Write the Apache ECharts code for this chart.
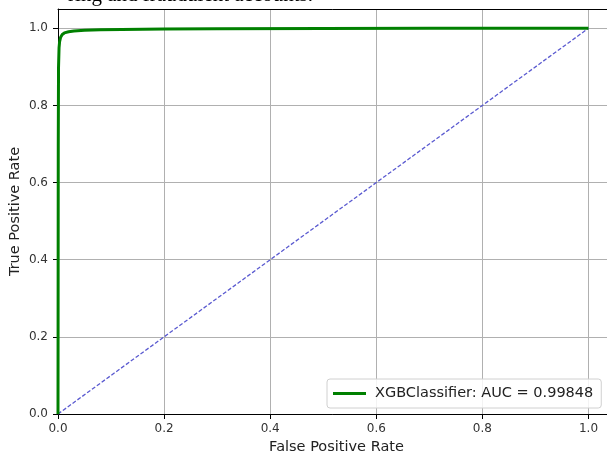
<!DOCTYPE html>
<html lang="en" style="height: 100%">
<head>
  <meta charset="utf-8">
</head>
<body style="height: 100%; margin: 0; background: #fff">
  <div id="container" style="height: 100%"></div>
  <script type="text/javascript" src="https://cdn.jsdelivr.net/npm/echarts@6/dist/echarts.min.js"></script>
  <script type="text/javascript">
    // ROC curve
    var fpr = [0, 0.0005, 0.001, 0.002, 0.003, 0.005, 0.008, 0.012, 0.02, 0.03, 0.05, 0.08, 0.12, 0.2, 0.3, 0.5, 0.7, 1.0];
    var tpr = [0, 0.70, 0.90, 0.95, 0.965, 0.977, 0.984, 0.988, 0.991, 0.993, 0.995, 0.996, 0.997, 0.998, 0.999, 0.9995, 1.0, 1.0];
    var diagX = [0, 1];
    var diagY = [0, 1];
    var aucLabel = 'XGBClassifier: AUC = 0.99848';
    var topText = 'ring and fraudulent accounts.';

    var dom = document.getElementById('container');
    var myChart = echarts.init(dom, null, { renderer: 'canvas' });

    var labelFont = 'DejaVu Sans';
    var option = {
      animation: false,
      backgroundColor: '#fff',
      graphic: [{
        type: 'text',
        right: 294,
        top: -15,
        style: {
          text: topText,
          font: '21px "Liberation Serif"',
          fill: '#000'
        }
      }],
      grid: {
        left: 58,
        top: 9,
        width: 557,
        height: 405,
        containLabel: false,
        outerBoundsMode: 'none',
        show: false
      },
      legend: {
        left: 327,
        top: 379,
        orient: 'vertical',
        backgroundColor: 'rgba(255,255,255,0.85)',
        borderColor: '#d0d0d0',
        borderWidth: 1,
        borderRadius: 3,
        padding: [7, 8, 7, 6],
        itemWidth: 33,
        itemHeight: 3,
        itemGap: 8,
        icon: 'rect',
        textStyle: { fontFamily: labelFont, fontSize: 14.5, color: '#222', padding: [0, 0, 0, 4] },
        data: [aucLabel]
      },
      xAxis: [{
        type: 'value',
        min: 0,
        max: 1.05,
        interval: 0.2,
        name: 'False Positive Rate',
        nameLocation: 'middle',
        nameGap: 26,
        nameMoveOverlap: false,
        nameTextStyle: { fontFamily: labelFont, fontSize: 14.5, color: '#222' },
        axisLine: { show: true, lineStyle: { color: '#000' } },
        axisTick: { show: true, length: 5, lineStyle: { color: '#000' } },
        axisLabel: {
          fontFamily: labelFont, fontSize: 12, color: '#333', margin: 9,
          showMaxLabel: false,
          formatter: function (v) { return v > 1.001 ? '' : v.toFixed(1); }
        },
        splitLine: { show: true, showMaxLine: false, lineStyle: { color: '#b0b0b0', width: 1 } }
      }, {
        // top frame line only
        type: 'value',
        position: 'top',
        min: 0,
        max: 1.05,
        axisLine: { show: true, onZero: false, lineStyle: { color: '#000' } },
        axisTick: { show: false },
        axisLabel: { show: false },
        splitLine: { show: false }
      }],
      yAxis: {
        type: 'value',
        min: 0,
        max: 1.05,
        interval: 0.2,
        name: 'True Positive Rate',
        nameLocation: 'middle',
        nameGap: 35,
        nameMoveOverlap: false,
        nameTextStyle: { fontFamily: labelFont, fontSize: 14.5, color: '#222' },
        axisLine: { show: true, lineStyle: { color: '#000' } },
        axisTick: { show: true, length: 5, lineStyle: { color: '#000' } },
        axisLabel: {
          fontFamily: labelFont, fontSize: 12, color: '#333', margin: 10,
          showMaxLabel: false,
          formatter: function (v) { return v > 1.001 ? '' : v.toFixed(1); }
        },
        splitLine: { show: true, showMaxLine: false, lineStyle: { color: '#b0b0b0', width: 1 } }
      },
      series: [
        {
          name: aucLabel,
          type: 'line',
          data: fpr.map(function (x, i) { return [x, tpr[i]]; }),
          showSymbol: false,
          lineStyle: { color: '#008000', width: 3 },
          itemStyle: { color: '#008000' },
          z: 3
        },
        {
          name: 'diag',
          type: 'line',
          data: diagX.map(function (x, i) { return [x, diagY[i]]; }),
          showSymbol: false,
          lineStyle: { color: '#5a5ad0', width: 1.3, type: [4, 2] },
          z: 2
        }
      ]
    };
    myChart.setOption(option);
    window.addEventListener('resize', myChart.resize);
  </script>
</body>
</html>
